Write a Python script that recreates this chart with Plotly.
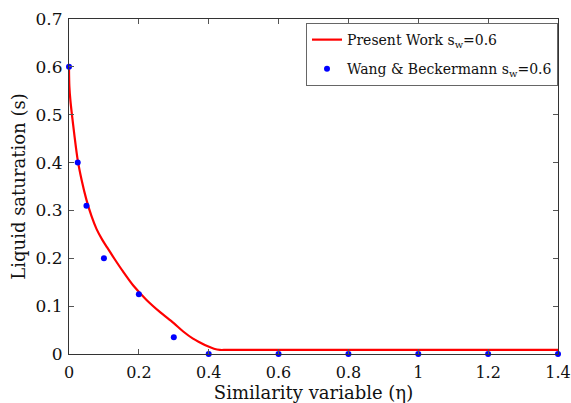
import plotly.graph_objects as go

# Present work curve
eta_curve = [0.0, 0.001, 0.004, 0.008, 0.015, 0.025, 0.036, 0.05, 0.065, 0.079, 0.095, 0.108,
             0.13, 0.155, 0.184, 0.222, 0.26, 0.299, 0.327, 0.355, 0.375, 0.394, 0.415, 0.432,
             0.45, 0.6, 0.8, 1.0, 1.2, 1.4]
s_curve = [0.595, 0.56, 0.53, 0.503, 0.46, 0.405, 0.364, 0.322, 0.287, 0.261, 0.239, 0.224,
           0.199, 0.172, 0.143, 0.113, 0.088, 0.065, 0.047, 0.032, 0.024, 0.017, 0.011, 0.0085,
           0.0085, 0.0085, 0.0085, 0.0085, 0.0085, 0.0085]

# Wang & Beckermann data
eta_wb = [0.0, 0.025, 0.05, 0.1, 0.2, 0.3, 0.4, 0.6, 0.8, 1.0, 1.2, 1.4]
s_wb = [0.6, 0.4, 0.31, 0.2, 0.125, 0.035, 0.0, 0.0, 0.0, 0.0, 0.0, 0.0]

x_ticks = [0, 0.2, 0.4, 0.6, 0.8, 1.0, 1.2, 1.4]
x_labels = ["0", "0.2", "0.4", "0.6", "0.8", "1", "1.2", "1.4"]
y_ticks = [0, 0.1, 0.2, 0.3, 0.4, 0.5, 0.6, 0.7]
y_labels = ["0", "0.1", "0.2", "0.3", "0.4", "0.5", "0.6", "0.7"]

font_family = "DejaVu Serif, Liberation Serif, serif"

fig = go.Figure()
fig.add_trace(go.Scatter(x=eta_curve, y=s_curve, mode="lines",
                         line=dict(color="#ff0000", width=2.2, shape="spline", smoothing=0.8),
                         name="Present Work s<sub>w</sub>=0.6", legendgroup="a",
                         cliponaxis=False))
fig.add_trace(go.Scatter(x=eta_wb, y=s_wb, mode="markers",
                         marker=dict(color="#0000ff", size=6, symbol="circle"),
                         name="Wang &amp; Beckermann s<sub>w</sub>=0.6", legendgroup="b",
                         cliponaxis=False))

axis_common = dict(showline=True, linecolor="#333333", linewidth=1, mirror="ticks",
                   ticks="inside", ticklen=5, tickcolor="#555555", showgrid=False,
                   zeroline=False, automargin=False)

fig.update_xaxes(range=[0, 1.4], tickvals=x_ticks, ticktext=x_labels, ticklabelstandoff=4,
                 tickfont=dict(family=font_family, size=16, color="#111111"),
                 title=dict(text="Similarity variable (η)", standoff=3,
                            font=dict(family=font_family, size=18, color="#111111")),
                 **axis_common)
fig.update_yaxes(range=[0, 0.7], tickvals=y_ticks, ticktext=y_labels, ticklabelstandoff=2,
                 tickfont=dict(family=font_family, size=17, color="#111111"),
                 title=dict(text="Liquid saturation (s)", standoff=5,
                            font=dict(family=font_family, size=18, color="#111111")),
                 **axis_common)

fig.update_layout(
    width=571, height=403,
    margin=dict(l=69, r=13, t=19, b=49, autoexpand=False),
    plot_bgcolor="white", paper_bgcolor="white",
    legend=dict(x=1.0, y=0.988, xanchor="right", yanchor="top",
                bgcolor="white", bordercolor="#666666", borderwidth=1,
                font=dict(family=font_family, size=14, color="#111111"),
                tracegroupgap=8),
    showlegend=True,
)

fig.write_html("out.html")
